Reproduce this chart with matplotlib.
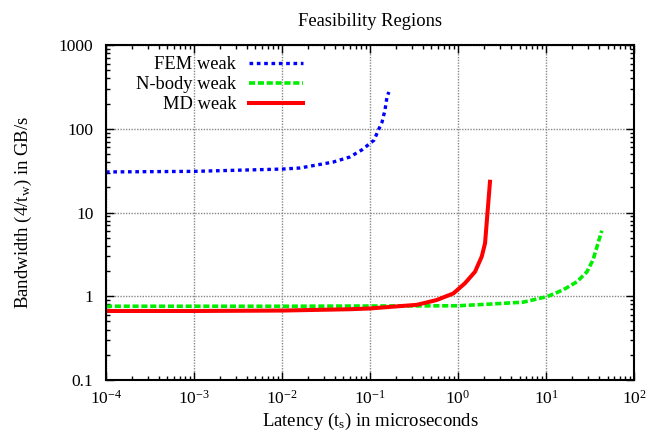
import numpy as np
import matplotlib
matplotlib.use('Agg')
import matplotlib.pyplot as plt
from matplotlib.ticker import LogLocator, FixedLocator, FixedFormatter, NullFormatter

plt.rcParams['font.family'] = ['Liberation Serif', 'DejaVu Serif']
plt.rcParams['mathtext.fontset'] = 'custom'
plt.rcParams['mathtext.rm'] = 'Liberation Serif'
plt.rcParams['mathtext.it'] = 'Liberation Serif:italic'

# valeurs (latence en us, bande passante en GB/s)
fem_x = [1e-4, 1e-3, 1e-2, 0.016, 0.038, 0.059, 0.081, 0.095, 0.111, 0.126, 0.137, 0.148, 0.156, 0.164]
fem_y = [30.5, 31, 33, 34, 40, 46, 56, 64, 73, 99, 120, 167, 239, 275]

nbody_x = [1e-4, 1e-3, 1e-2, 0.1, 1.0, 2.5, 5.5, 10.3, 15.6, 22.5, 29.2, 34.2, 39, 43]
nbody_y = [0.76, 0.76, 0.76, 0.765, 0.77, 0.81, 0.85, 0.99, 1.19, 1.49, 1.96, 2.71, 4.29, 6.07]

md_x = [1e-4, 1e-3, 1e-2, 0.059, 0.1, 0.34, 0.57, 0.885, 1.2, 1.56, 1.86, 2.03, 2.31]
md_y = [0.667, 0.667, 0.675, 0.70, 0.715, 0.79, 0.90, 1.08, 1.43, 1.96, 2.97, 4.29, 23.3]

y_ticks = [0.1, 1, 10, 100, 1000]
y_labels = ['0.1', '1', '10', '100', '1000']

fig = plt.figure(figsize=(6.47, 4.34), dpi=100)
ax = fig.add_axes([0.1638, 0.1244, 0.8161, 0.7719])

ax.plot(fem_x, fem_y, color='#0000ff', lw=2.4, dashes=(1.1, 1.1), label='FEM weak')
ax.plot(nbody_x, nbody_y, color='#00ee00', lw=2.6, dashes=(1.7, 0.75), label='N-body weak')
ax.plot(md_x, md_y, color='#ff0000', lw=2.9, label='MD weak')

ax.set_xscale('log')
ax.set_yscale('log')
ax.set_xlim(1e-4, 1e2)
ax.set_ylim(0.1, 1000)

ax.xaxis.set_major_locator(LogLocator(base=10, numticks=10))
ax.xaxis.set_minor_locator(LogLocator(base=10, subs=np.arange(2, 10), numticks=20))
ax.xaxis.set_minor_formatter(NullFormatter())
ax.yaxis.set_major_locator(FixedLocator(y_ticks))
ax.yaxis.set_major_formatter(FixedFormatter(y_labels))
ax.yaxis.set_minor_locator(LogLocator(base=10, subs=np.arange(2, 10), numticks=20))
ax.yaxis.set_minor_formatter(NullFormatter())

ax.tick_params(which='both', direction='in', top=True, right=True, width=1.0, labelsize=12.5)
ax.tick_params(which='major', length=6)
ax.tick_params(axis='y', which='major', pad=9)
ax.tick_params(axis='x', which='major', pad=7)
ax.tick_params(which='minor', length=3)
for s in ax.spines.values():
    s.set_linewidth(1.5)

ax.grid(True, which='major', linestyle=(0, (1, 1)), color='#888888', lw=1.0)

ax.set_title('Feasibility Regions', fontsize=13.3, pad=14)
ax.set_xlabel('Latency (t$_\\mathrm{s}$) in microseconds', fontsize=13.5, labelpad=2)
ax.set_ylabel('Bandwidth (4/t$_\\mathrm{w}$) in GB/s', fontsize=13.5, labelpad=18)

leg = ax.legend(loc='upper right', bbox_to_anchor=(0.373, 0.966), frameon=False,
                markerfirst=False, handlelength=2.9, handletextpad=0.72,
                labelspacing=0.16, borderpad=0, borderaxespad=0, fontsize=13.3)
for t in leg.get_texts():
    t.set_ha('right')

fig.savefig('out.png', dpi=100)
